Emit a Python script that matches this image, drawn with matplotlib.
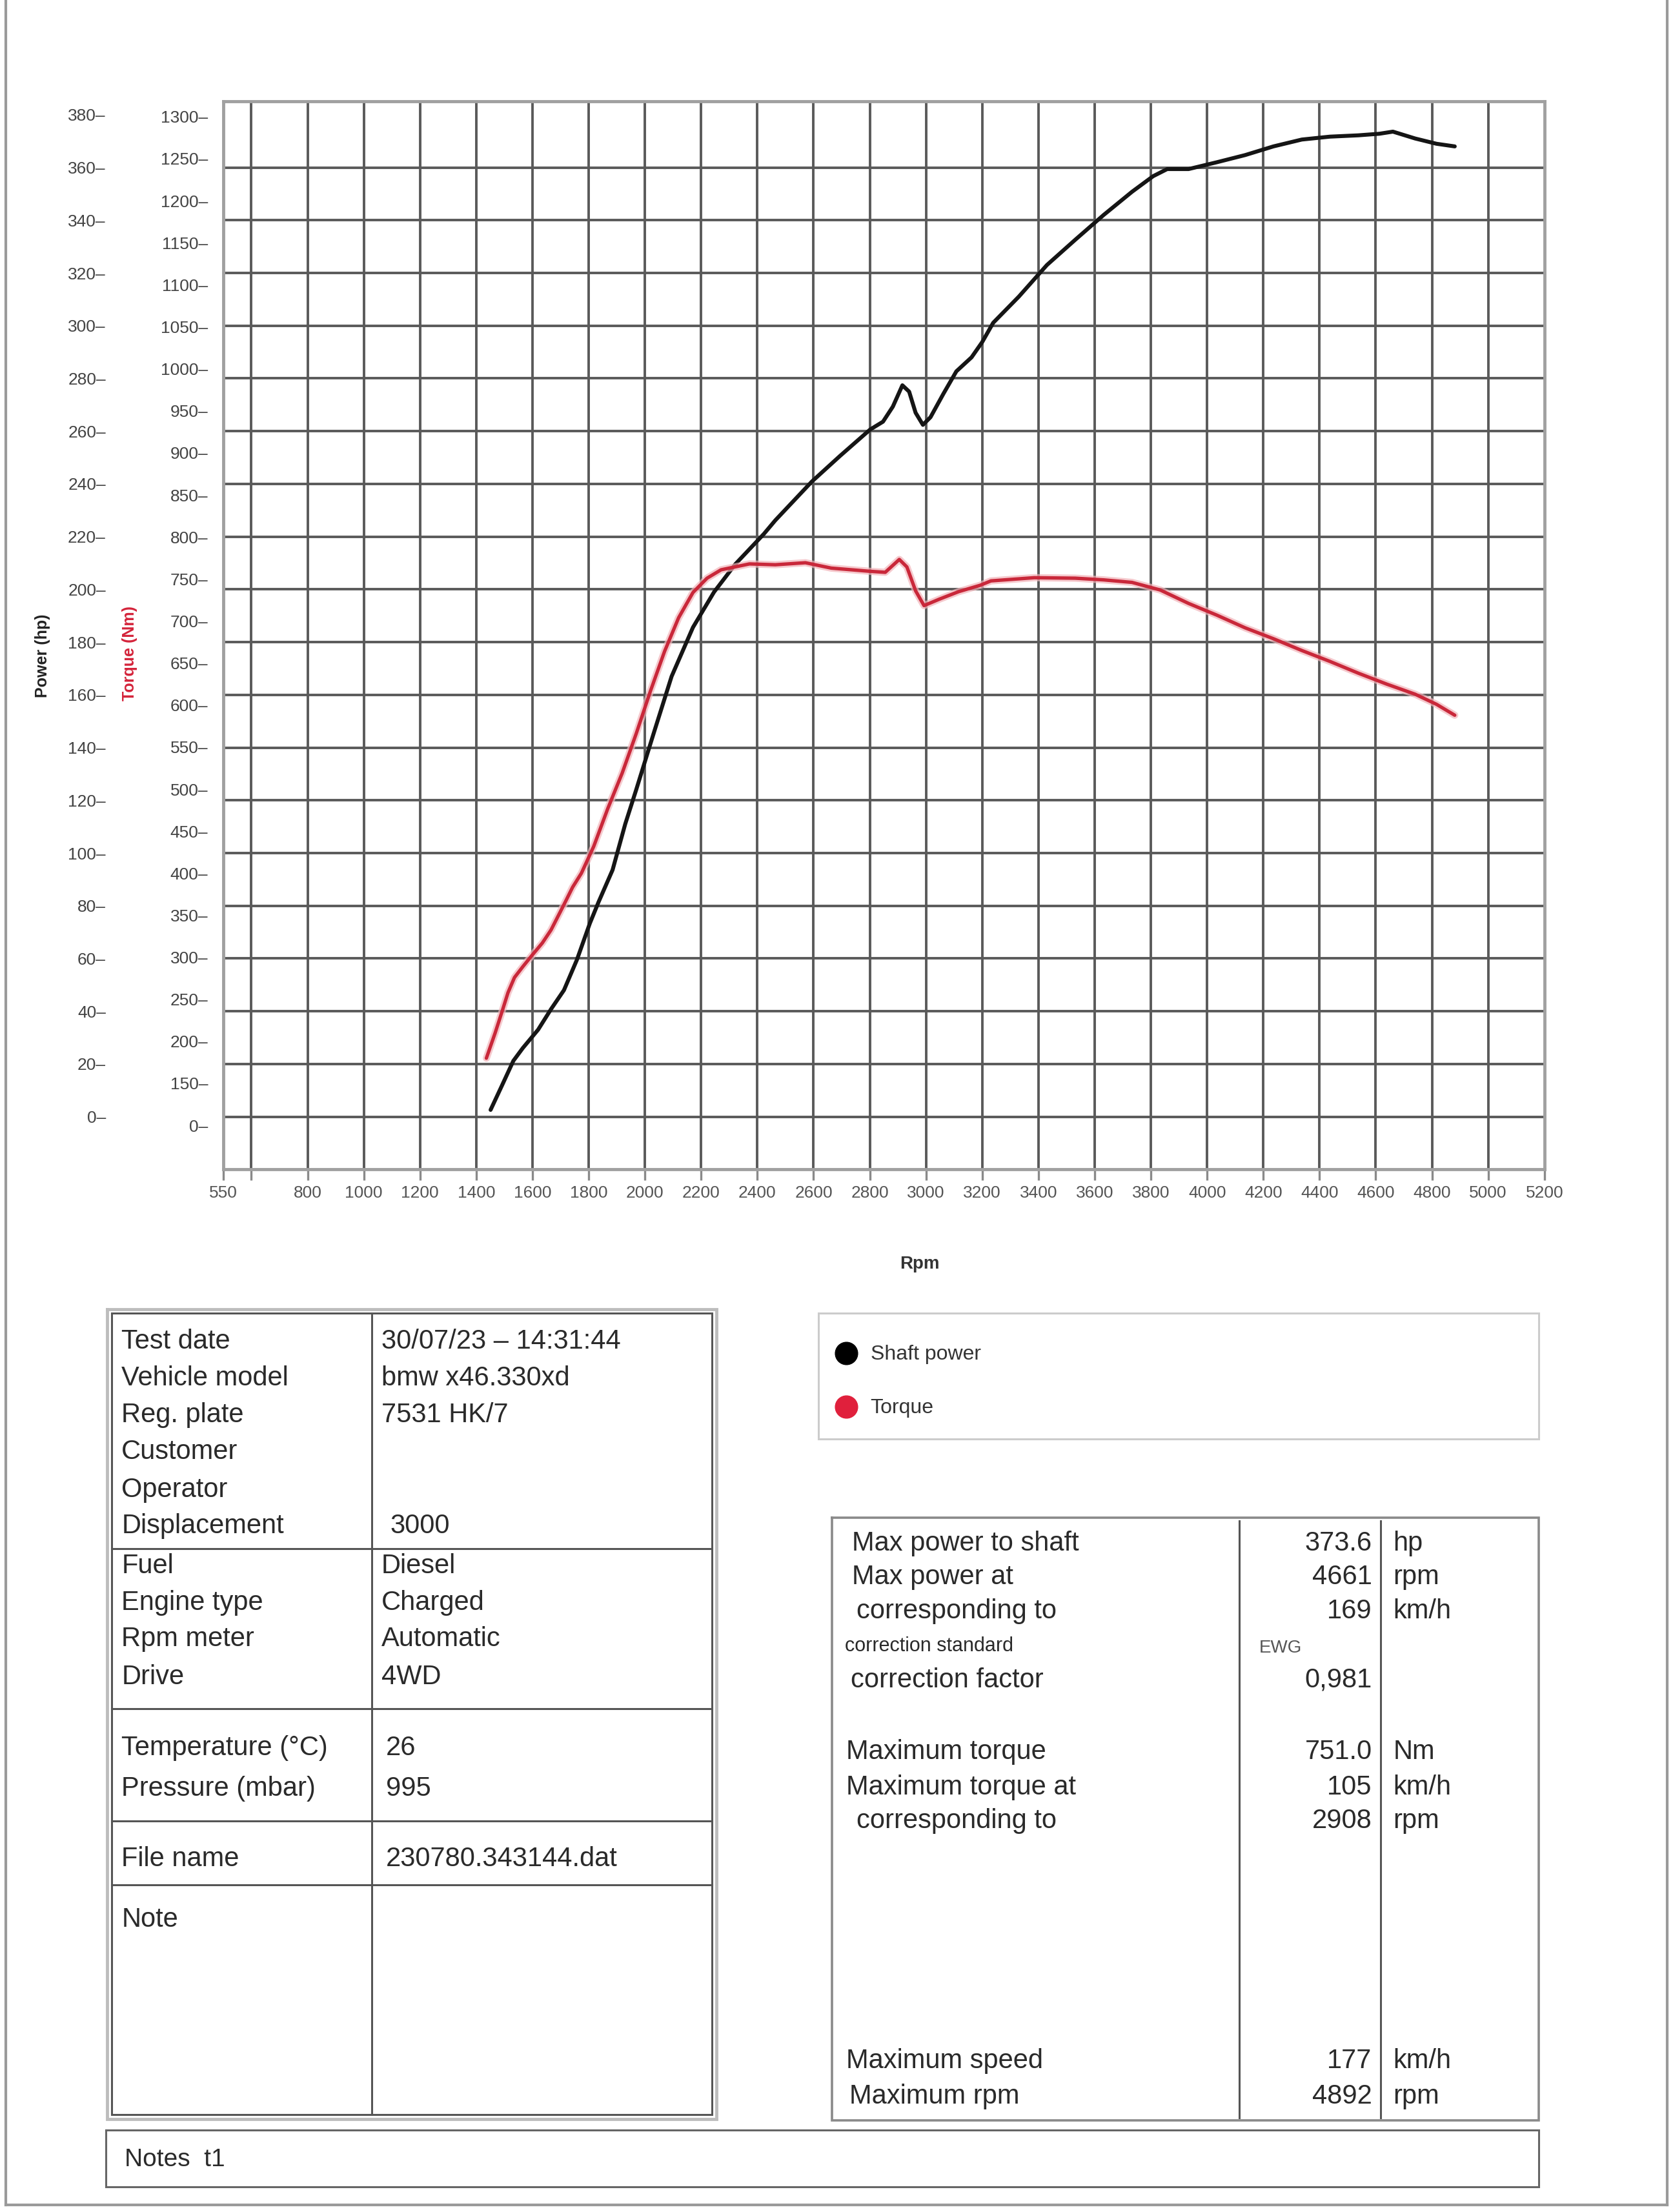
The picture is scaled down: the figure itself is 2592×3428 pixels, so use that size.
#!/usr/bin/env python3
"""
Dyno sheet recreation: shaft power / torque vs rpm with the test
report tables underneath. Writes out.png (2592x3428).
"""

import matplotlib
matplotlib.use("Agg")
import matplotlib.pyplot as plt
from matplotlib import font_manager

# ---- curve data ----
power_rpm = [1451, 1490, 1532, 1566, 1620, 1666, 1712, 1758, 1804, 1835,
             1885, 1930, 1969, 2030, 2095, 2171, 2246, 2322, 2423, 2464,
             2594, 2694, 2801, 2847, 2882, 2916, 2940, 2963, 2989, 3016,
             3062, 3108, 3162, 3200, 3239, 3330, 3430, 3531, 3632, 3733,
             3808, 3858, 3934, 4035, 4135, 4236, 4337, 4437, 4538, 4613,
             4661, 4740, 4816, 4881]
power_hp = [2.6, 11.5, 21.2, 26.1, 33.0, 40.8, 48.0, 59.5, 73.3, 81.4,
            93.6, 111.0, 124.0, 145.0, 167.0, 185.6, 199.0, 209.6, 221.0, 226.2,
            240.9, 250.6, 260.6, 263.6, 269.3, 277.4, 275.0, 267.0, 262.4, 265.3,
            274.2, 282.7, 288.0, 293.8, 301.1, 311.0, 323.0, 332.6, 342.0, 350.8,
            356.7, 359.4, 359.4, 362.0, 364.7, 368.0, 370.6, 371.7, 372.2, 372.8,
            373.6, 371.0, 369.0, 368.0]

torque_rpm = [1436, 1467, 1494, 1513, 1536, 1566, 1597, 1635, 1666, 1697,
              1720, 1743, 1774, 1818, 1868, 1919, 1969, 2020, 2070, 2120,
              2171, 2221, 2271, 2372, 2464, 2571, 2663, 2801, 2855, 2905,
              2932, 2963, 2993, 3047, 3116, 3193, 3231, 3385, 3531, 3632,
              3733, 3833, 3934, 4035, 4135, 4236, 4337, 4437, 4538, 4639,
              4740, 4816, 4881]
torque_nm = [180, 209.8, 237.8, 258, 276, 289, 301.8, 317, 332.5, 352.8,
             368, 383.5, 400, 432, 477, 519, 566, 617, 664, 704,
             734, 751, 761, 768, 767, 769.4, 763, 759.2, 758, 773.3,
             764.4, 736, 718.4, 726, 735, 742.6, 747.8, 751.6, 751, 749,
             746, 737, 721, 707, 692, 679, 665, 652, 638, 625,
             613, 601, 588]

# ---- axis ticks ----
rpm_ticks = [500, 600] + list(range(800, 5201, 200))
rpm_tick_labels = ["550", ""] + [str(v) for v in range(800, 5201, 200)]
rpm_grid = list(range(600, 5001, 200))
power_ticks = list(range(0, 381, 20))
power_grid = list(range(0, 361, 20))
torque_ticks = [100] + list(range(150, 1301, 50))
torque_tick_labels = ["0"] + [str(v) for v in range(150, 1301, 50)]

# ---- report tables ----
left_labels = ["Test date", "Vehicle model", "Reg. plate", "Customer", "Operator",
               "Displacement", "Fuel", "Engine type", "Rpm meter", "Drive",
               "Temperature (°C)", "Pressure (mbar)", "File name", "Note"]
left_values = ["30/07/23 – 14:31:44", "bmw x46.330xd", "7531 HK/7", "", "",
               "3000", "Diesel", "Charged", "Automatic", "4WD",
               "26", "995", "230780.343144.dat", ""]
right_labels = ["Max power to shaft", "Max power at", "corresponding to",
                "correction standard", "correction factor", "Maximum torque",
                "Maximum torque at", "corresponding to", "Maximum speed", "Maximum rpm"]
right_values = ["373.6", "4661", "169", "EWG", "0,981", "751.0", "105", "2908", "177", "4892"]
right_units = ["hp", "rpm", "km/h", "", "", "Nm", "km/h", "rpm", "km/h", "rpm"]


def has_font(name):
    try:
        font_manager.findfont(font_manager.FontProperties(family=name),
                              fallback_to_default=False)
        return True
    except ValueError:
        return False


plt.rcParams['font.family'] = ['Liberation Sans', 'DejaVu Sans']
NARROW = 'Liberation Sans Narrow' if has_font('Liberation Sans Narrow') else 'Liberation Sans'
XT_SIZE = 24 if NARROW != 'Liberation Sans' else 19

TXT = "#2a2a2a"
GRID = "#5a5a5a"
FRAME = "#a0a0a0"
RED = "#c9283a"

# page laid out in the coordinates of a 1184 x 1568 view of the sheet
W, H = 1184, 1568

fig = plt.figure(figsize=(25.92, 34.28), dpi=100)
bg = fig.add_axes([0, 0, 1, 1])
bg.set_xlim(0, W)
bg.set_ylim(H, 0)
bg.axis("off")


def box(x0, y0, x1, y1, color="#555555", lw=2.2):
    bg.plot([x0, x1, x1, x0, x0], [y0, y0, y1, y1, y0], color=color, lw=lw,
            solid_joinstyle="miter")


def hline(x0, x1, y, color="#555555", lw=2.2):
    bg.plot([x0, x1], [y, y], color=color, lw=lw)


def vline(x, y0, y1, color="#555555", lw=2.2):
    bg.plot([x, x], [y0, y1], color=color, lw=lw)


# sheet border (top is cut off)
vline(4, 0, 1563, color="#9a9a9a", lw=3)
vline(1180, 0, 1563, color="#9a9a9a", lw=3)
hline(4, 1180, 1563, color="#9a9a9a", lw=3)

# ---- chart ----
ax = fig.add_axes([158 / W, 1 - 829 / H, (1093 - 158) / W, (829 - 72) / H])
ax.set_xlim(500, 5200)
ax.set_ylim(-20, 385)

for r in rpm_grid:
    ax.axvline(r, color=GRID, lw=2.8, zorder=1)
for p in power_grid:
    ax.axhline(p, color=GRID, lw=2.8, zorder=1)

ax.plot(power_rpm, power_hp, color="#151515", lw=4.4, zorder=4,
        solid_capstyle="round", solid_joinstyle="round")

for s in ax.spines.values():
    s.set_color(FRAME)
    s.set_linewidth(3.5)

ax.set_xticks(rpm_ticks)
ax.set_xticklabels(rpm_tick_labels)
ax.tick_params(axis="x", length=12, width=2.4, color="#8a8a8a", direction="out",
               pad=6, labelsize=XT_SIZE, labelcolor="#555555")
for lab in ax.get_xticklabels():
    lab.set_fontfamily(NARROW)

ax.set_yticks(power_ticks)
ax.set_yticklabels([f"{v}–" for v in power_ticks])
ax.tick_params(axis="y", length=0, pad=131, labelsize=19, labelcolor="#444444")

ax2 = ax.twinx()
ax2.set_ylim(47.6, 1318)
ax2.plot(torque_rpm, torque_nm, color="#f2b3b9", lw=8, alpha=0.7, zorder=3,
         solid_capstyle="round", solid_joinstyle="round")
ax2.plot(torque_rpm, torque_nm, color=RED, lw=3.8, zorder=4,
         solid_capstyle="round", solid_joinstyle="round")
for s in ax2.spines.values():
    s.set_visible(False)
ax2.set_yticks(torque_ticks)
ax2.set_yticklabels([f"{t}–" for t in torque_tick_labels])
ax2.tick_params(axis="y", left=True, labelleft=True, right=False, labelright=False,
                length=0, pad=17, labelsize=19, labelcolor="#444444")

bg.text(30, 465, "Power (hp)", rotation=90, ha="center", va="center",
        fontsize=18, fontweight="bold", color="#222222")
bg.text(92, 463, "Torque (Nm)", rotation=90, ha="center", va="center",
        fontsize=18, fontweight="bold", color="#d4233a")
bg.text(651, 896, "Rpm", ha="center", va="center", fontsize=20,
        fontweight="bold", color="#333333")

# ---- left info table ----
box(76, 928, 507, 1502, color="#bdbdbd", lw=3.5)
box(79, 931, 504, 1499, color="#555555", lw=2.2)
vline(263, 931, 1499)
for y in (1098, 1211, 1291, 1336):
    hline(79, 504, y)

left_y = [951, 977, 1003, 1029, 1056, 1082, 1110, 1136, 1162, 1189, 1239, 1268, 1318, 1361]
left_vx = [270, 270, 270, 270, 270, 276, 270, 270, 270, 270, 273, 273, 273, 273]
for lab, val, y, vx in zip(left_labels, left_values, left_y, left_vx):
    bg.text(86, y, lab, ha="left", va="center", fontsize=30, color=TXT)
    if val:
        bg.text(vx, y, val, ha="left", va="center", fontsize=30, color=TXT)

# ---- legend box ----
box(579, 931, 1089, 1020, color="#cccccc", lw=2.2)
bg.plot([599], [959], "o", color="black", ms=25)
bg.plot([599], [997], "o", color="#e0203c", ms=25)
bg.text(616, 960, "Shaft power", ha="left", va="center", fontsize=23, color="#333333")
bg.text(616, 998, "Torque", ha="left", va="center", fontsize=23, color="#333333")

# ---- right results table ----
box(589, 1076, 1089, 1503, color="#8a8a8a", lw=2.6)
vline(877, 1078, 1501)
vline(977, 1078, 1501)
right_y = [1094, 1118, 1142, 1167, 1191, 1242, 1267, 1291, 1461, 1486]
right_lx = [603, 603, 606, 598, 602, 599, 599, 606, 599, 601]
for lab, val, unit, y, lx in zip(right_labels, right_values, right_units, right_y, right_lx):
    if lab == "correction standard":
        bg.text(lx, y, lab, ha="left", va="center", fontsize=22, color=TXT,
                family=[NARROW, 'Liberation Sans'])
        bg.text(891, y + 1, val, ha="left", va="center", fontsize=20, color="#555555",
                family=[NARROW, 'Liberation Sans'])
        continue
    bg.text(lx, y, lab, ha="left", va="center", fontsize=30, color=TXT)
    bg.text(971, y, val, ha="right", va="center", fontsize=30, color=TXT)
    if unit:
        bg.text(986, y, unit, ha="left", va="center", fontsize=30, color=TXT)

# ---- notes strip ----
box(75, 1510, 1089, 1550, color="#666666", lw=2.2)
bg.text(88, 1531, "Notes  t1", ha="left", va="center", fontsize=28, color=TXT)

fig.savefig("out.png", dpi=100)
